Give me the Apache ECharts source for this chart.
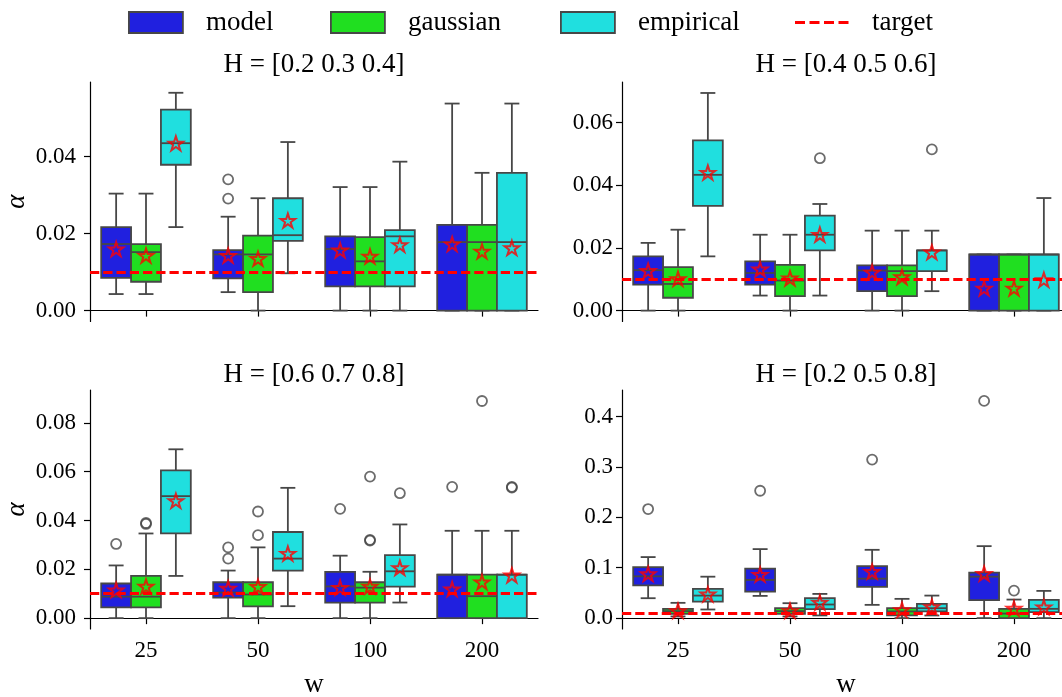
<!DOCTYPE html>
<html><head><meta charset="utf-8">
<script src="https://cdn.jsdelivr.net/npm/echarts@6/dist/echarts.min.js"></script>
<style>html,body{margin:0;padding:0;background:#fff}#c{width:1062px;height:697px}</style>
</head><body><div id="c"></div>
<script>
// ---------- data ----------
const categories = ['25', '50', '100', '200'];
const groups = ['model', 'gaussian', 'empirical'];
const groupColors = ['#2020df', '#20df20', '#20dfdf'];
const panelTitles = ['H = [0.2 0.3 0.4]', 'H = [0.4 0.5 0.6]', 'H = [0.6 0.7 0.8]', 'H = [0.2 0.5 0.8]'];
const targetLevel = 0.01;

const yTicks1 = [0, 0.02, 0.04];
const yTicks2 = [0, 0.02, 0.04, 0.06];
const yTicks3 = [0, 0.02, 0.04, 0.06, 0.08];
const yTicks4 = [0, 0.1, 0.2, 0.3, 0.4];
const yRange1 = [-0.00283, 0.0594];
const yRange2 = [-0.00347, 0.0729];
const yRange3 = [-0.00445, 0.0935];
const yRange4 = [-0.0216, 0.4526];

// box stats per category: [low whisker, Q1, median, Q3, high whisker]
const p1Model = [[0.0043, 0.0085, 0.0173, 0.0217, 0.0304], [0.0048, 0.0084, 0.0146, 0.0157, 0.0244], [0, 0.0063, 0.0160, 0.0193, 0.0321], [0, 0, 0.0178, 0.0223, 0.0538]];
const p1Gaussian = [[0.0043, 0.0075, 0.0152, 0.0173, 0.0304], [0, 0.0048, 0.0146, 0.0195, 0.0292], [0, 0.0063, 0.0128, 0.0191, 0.0321], [0, 0, 0.0178, 0.0223, 0.0358]];
const p1Empirical = [[0.0217, 0.0379, 0.0435, 0.0522, 0.0566], [0.0097, 0.0181, 0.0196, 0.0292, 0.0438], [0, 0.0063, 0.0193, 0.0209, 0.0387], [0, 0, 0.0178, 0.0358, 0.0538]];
const p1MeanModel = [0.0158, 0.0141, 0.0155, 0.0171];
const p1MeanGaussian = [0.0141, 0.0133, 0.0139, 0.0152];
const p1MeanEmpirical = [0.0433, 0.0232, 0.0169, 0.0161];
const p1OutModel = [[1, 0.0341], [1, 0.0291]];
const p1OutGaussian = [];
const p1OutEmpirical = [];

const p2Model = [[0, 0.0083, 0.0129, 0.0173, 0.0216], [0.0048, 0.0083, 0.0120, 0.0157, 0.0242], [0, 0.0062, 0.0128, 0.0144, 0.0255], [0, 0, 0.0179, 0.0179, 0.0179]];
const p2Gaussian = [[0, 0.0041, 0.0085, 0.0139, 0.0258], [0, 0.0046, 0.0096, 0.0146, 0.0242], [0, 0.0046, 0.0126, 0.0144, 0.0255], [0, 0, 0.0179, 0.0179, 0.0179]];
const p2Empirical = [[0.0173, 0.0334, 0.0433, 0.0543, 0.0694], [0.0048, 0.0192, 0.0242, 0.0303, 0.0340], [0.0062, 0.0126, 0.0192, 0.0192, 0.0255], [0, 0, 0.0179, 0.0179, 0.0359]];
const p2MeanModel = [0.0125, 0.0130, 0.0120, 0.0069];
const p2MeanGaussian = [0.0099, 0.0101, 0.0105, 0.0069];
const p2MeanEmpirical = [0.0438, 0.0240, 0.0184, 0.0096];
const p2OutModel = [];
const p2OutGaussian = [];
const p2OutEmpirical = [[1, 0.0486], [2, 0.0514]];

const p3Model = [[0, 0.0044, 0.0088, 0.0142, 0.0216], [0, 0.0084, 0.0105, 0.0147, 0.0195], [0, 0.0064, 0.0130, 0.0190, 0.0256], [0, 0, 0.0178, 0.0178, 0.0358]];
const p3Gaussian = [[0, 0.0044, 0.0088, 0.0173, 0.0347], [0, 0.0048, 0.0097, 0.0147, 0.0290], [0, 0.0064, 0.0125, 0.0147, 0.0190], [0, 0, 0.0090, 0.0178, 0.0358]];
const p3Empirical = [[0.0173, 0.0347, 0.0500, 0.0606, 0.0692], [0.0049, 0.0195, 0.0244, 0.0353, 0.0534], [0.0064, 0.0129, 0.0192, 0.0258, 0.0384], [0, 0, 0.0178, 0.0178, 0.0358]];
const p3MeanModel = [0.0112, 0.0119, 0.0122, 0.0116];
const p3MeanGaussian = [0.0127, 0.0126, 0.0127, 0.0145];
const p3MeanEmpirical = [0.0478, 0.0262, 0.0203, 0.0173];
const p3OutModel = [[0, 0.0304], [1, 0.0290], [1, 0.0244], [2, 0.0448], [3, 0.0538]];
const p3OutGaussian = [[0, 0.0390], [0, 0.0386], [1, 0.0437], [1, 0.0340], [2, 0.0580], [2, 0.0321], [2, 0.0318], [3, 0.0890]];
const p3OutEmpirical = [[2, 0.0512], [3, 0.0538], [3, 0.0535]];

const p4Model = [[0.0395, 0.0651, 0.0829, 0.1013, 0.1211], [0.0441, 0.0526, 0.0757, 0.0980, 0.1369], [0.0263, 0.0619, 0.0783, 0.1033, 0.1355], [0, 0.0355, 0.0822, 0.0901, 0.1428]];
const p4Gaussian = [[0.0033, 0.0086, 0.0138, 0.0184, 0.0303], [0.0033, 0.0086, 0.0138, 0.0197, 0.0296], [0, 0.0053, 0.0132, 0.0197, 0.0382], [0, 0, 0.0090, 0.0184, 0.0368]];
const p4Empirical = [[0.0171, 0.0329, 0.0447, 0.0579, 0.0822], [0.0053, 0.0178, 0.0270, 0.0395, 0.0480], [0.0053, 0.0132, 0.0197, 0.0283, 0.0447], [0, 0.0118, 0.0184, 0.0362, 0.0540]];
const p4MeanModel = [0.0862, 0.0849, 0.0908, 0.0868];
const p4MeanGaussian = [0.0132, 0.0132, 0.0151, 0.0178];
const p4MeanEmpirical = [0.0460, 0.0296, 0.0210, 0.0204];
const p4OutModel = [[0, 0.2164], [1, 0.2527], [2, 0.3145], [3, 0.4310]];
const p4OutGaussian = [[3, 0.0546]];
const p4OutEmpirical = [];

// ---------- assembly ----------
const FONT = 'Liberation Serif';
const EDGE = '#474747';
const LW = 1.8;
const panels = [
  {stats: [p1Model, p1Gaussian, p1Empirical], means: [p1MeanModel, p1MeanGaussian, p1MeanEmpirical], outs: [p1OutModel, p1OutGaussian, p1OutEmpirical], ticks: yTicks1, range: yRange1, dec: 2},
  {stats: [p2Model, p2Gaussian, p2Empirical], means: [p2MeanModel, p2MeanGaussian, p2MeanEmpirical], outs: [p2OutModel, p2OutGaussian, p2OutEmpirical], ticks: yTicks2, range: yRange2, dec: 2},
  {stats: [p3Model, p3Gaussian, p3Empirical], means: [p3MeanModel, p3MeanGaussian, p3MeanEmpirical], outs: [p3OutModel, p3OutGaussian, p3OutEmpirical], ticks: yTicks3, range: yRange3, dec: 2},
  {stats: [p4Model, p4Gaussian, p4Empirical], means: [p4MeanModel, p4MeanGaussian, p4MeanEmpirical], outs: [p4OutModel, p4OutGaussian, p4OutEmpirical], ticks: yTicks4, range: yRange4, dec: 1}
];
const gridBoxes = [
  {left: 90, top: 82, width: 448, height: 239.5},
  {left: 622, top: 82, width: 448, height: 239.5},
  {left: 90, top: 390, width: 448, height: 239},
  {left: 622, top: 390, width: 448, height: 239}
];
const titlePos = [[314, 51], [846, 51], [314, 361], [846, 361]];
const yLabelMargin = [14, 9, 14, 9];
const boxW = 448 / 4 * 0.8 / 3;
const STAR = 'path://M100,0L122.45,69.1L195.11,69.1L136.33,111.8L158.78,180.9L100,138.2L41.22,180.9L63.67,111.8L4.89,69.1L77.55,69.1Z';
const DASH_ICON = 'path://M0,0L0.01,0L0,0.01Z M54,21L53.99,21L54,20.99Z M0,9.1h10v2.8H0Z M14.5,9.1h10v2.8h-10Z M29,9.1h10v2.8h-10Z M43.5,9.1h10v2.8h-10Z';

function boxRenderer(g, color) {
  return function (params, api) {
    const ci = api.value(0);
    const band = api.size([1, 0])[0];
    const bw = band * 0.8 / 3;
    const pLow = api.coord([ci, api.value(1)]);
    const pQ1 = api.coord([ci, api.value(2)]);
    const pMed = api.coord([ci, api.value(3)]);
    const pQ3 = api.coord([ci, api.value(4)]);
    const pHigh = api.coord([ci, api.value(5)]);
    const cx = pLow[0] + (g - 1) * bw;
    const half = bw / 2, cap = bw / 4;
    const ls = {stroke: EDGE, lineWidth: LW};
    return {type: 'group', children: [
      {type: 'line', shape: {x1: cx, y1: pLow[1], x2: cx, y2: pQ1[1]}, style: ls},
      {type: 'line', shape: {x1: cx, y1: pQ3[1], x2: cx, y2: pHigh[1]}, style: ls},
      {type: 'line', shape: {x1: cx - cap, y1: pLow[1], x2: cx + cap, y2: pLow[1]}, style: ls},
      {type: 'line', shape: {x1: cx - cap, y1: pHigh[1], x2: cx + cap, y2: pHigh[1]}, style: ls},
      {type: 'rect', shape: {x: cx - half, y: pQ3[1], width: bw, height: pQ1[1] - pQ3[1]}, style: {fill: color, stroke: EDGE, lineWidth: LW}},
      {type: 'line', shape: {x1: cx - half, y1: pMed[1], x2: cx + half, y2: pMed[1]}, style: ls}
    ]};
  };
}

const grids = gridBoxes.map(b => Object.assign({containLabel: false, outerBoundsMode: 'none'}, b));
const xAxes = [], yAxes = [], series = [], titles = [];
panels.forEach((p, i) => {
  const bottom = i >= 2;
  xAxes.push({
    type: 'category', gridIndex: i, data: categories, boundaryGap: true,
    axisLine: {show: true, lineStyle: {color: '#000', width: 1.2}},
    axisTick: {show: true, alignWithLabel: true, length: 6, lineStyle: {color: '#000', width: 1.2}},
    axisLabel: {show: bottom, fontFamily: FONT, fontSize: 23, color: '#000', margin: 10},
    splitLine: {show: false},
    name: bottom ? 'w' : '', nameLocation: 'middle', nameGap: 42,
    nameTextStyle: {fontFamily: FONT, fontSize: 27, color: '#000'}
  });
  yAxes.push({
    type: 'value', gridIndex: i, min: p.range[0], max: p.range[1],
    axisLine: {show: true, lineStyle: {color: '#000', width: 1.2}},
    axisTick: {show: true, length: 6, customValues: p.ticks, lineStyle: {color: '#000', width: 1.2}},
    axisLabel: {customValues: p.ticks, formatter: v => Number(v).toFixed(p.dec), fontFamily: FONT, fontSize: 23, color: '#000', margin: yLabelMargin[i]},
    splitLine: {show: false},
    name: (i % 2 === 0) ? 'α' : '', nameLocation: 'middle', nameRotate: 90, nameGap: 60,
    nameTextStyle: {fontFamily: FONT, fontSize: 27, fontStyle: 'italic', color: '#000'}
  });
  titles.push({
    text: panelTitles[i], left: titlePos[i][0], top: titlePos[i][1], textAlign: 'center', padding: 0,
    textStyle: {fontFamily: FONT, fontSize: 27, fontWeight: 'normal', color: '#000'}
  });
  groups.forEach((gName, g) => {
    series.push({
      name: gName, type: 'custom', xAxisIndex: i, yAxisIndex: i, z: 2,
      itemStyle: {color: groupColors[g], borderColor: EDGE, borderWidth: LW},
      encode: {x: 0, y: [1, 2, 3, 4, 5]},
      data: p.stats[g].map((s, k) => [k].concat(s)),
      renderItem: boxRenderer(g, groupColors[g])
    });
    series.push({
      name: 'outlier', type: 'scatter', xAxisIndex: i, yAxisIndex: i, z: 3, silent: true,
      symbol: 'circle', symbolSize: 10, symbolOffset: [(g - 1) * boxW, 0],
      itemStyle: {color: 'rgba(0,0,0,0)', borderColor: EDGE, borderWidth: 1.8},
      data: p.outs[g]
    });
  });
  series.push({
    name: 'target', type: 'line', xAxisIndex: i, yAxisIndex: i, z: 3, symbol: 'none',
    lineStyle: {color: '#ff0000', type: [9.25, 4], width: 2.8}, itemStyle: {color: '#ff0000'},
    data: [],
    markLine: {silent: true, symbol: 'none', label: {show: false},
      lineStyle: {color: '#ff0000', type: [9.25, 4], width: 2.8},
      emphasis: {disabled: true},
      data: [{yAxis: targetLevel}]}
  });
  groups.forEach((gName, g) => {
    series.push({
      name: 'mean', type: 'scatter', xAxisIndex: i, yAxisIndex: i, z: 5, silent: true,
      symbol: STAR, symbolSize: [14.5, 14], symbolOffset: [(g - 1) * boxW, -0.7],
      itemStyle: {color: 'rgba(0,0,0,0)', borderColor: '#ff0000', borderWidth: 2},
      data: p.means[g].map((v, k) => [k, v])
    });
  });
});

const legendLefts = [128, 330, 560, 795];
const legendNames = ['model', 'gaussian', 'empirical', 'target'];
const legends = legendNames.map((n, k) => ({
  left: legendLefts[k], top: 9, padding: 0, itemWidth: 54, itemHeight: 21, selectedMode: false,
  data: [k < 3
    ? {name: n, icon: 'rect', itemStyle: {color: groupColors[k], borderColor: EDGE, borderWidth: 1.8}}
    : {name: n, icon: DASH_ICON, itemStyle: {color: '#ff0000', borderWidth: 0}}],
  textStyle: {fontFamily: FONT, fontSize: 27, color: '#000', padding: [0, 0, 0, 18]}
}));

const chart = echarts.init(document.getElementById('c'), null, {renderer: 'canvas'});
chart.setOption({
  animation: false,
  backgroundColor: '#fff',
  title: titles,
  legend: legends,
  grid: grids,
  xAxis: xAxes,
  yAxis: yAxes,
  series: series
});
</script>
</body></html>
